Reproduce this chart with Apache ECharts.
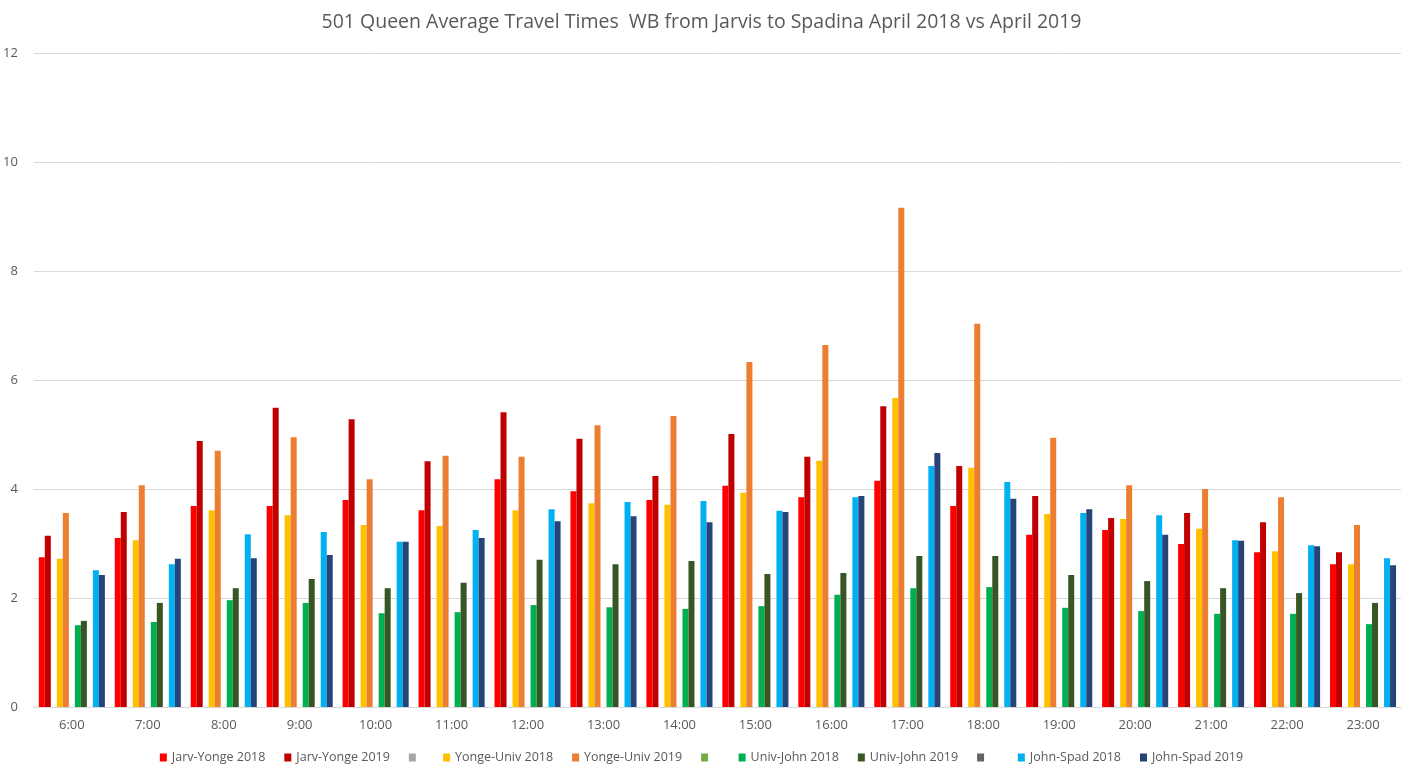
<!DOCTYPE html>
<html>
<head>
<meta charset="utf-8">
<script src="https://cdn.jsdelivr.net/npm/echarts@6/dist/echarts.min.js"></script>
<style>
html,body{margin:0;padding:0;background:#fff;}
#c{width:1403px;height:777px;}
</style>
</head>
<body>
<div id="c"></div>
<script>
const categories = ['6:00','7:00','8:00','9:00','10:00','11:00','12:00','13:00','14:00','15:00','16:00','17:00','18:00','19:00','20:00','21:00','22:00','23:00'];
const jarvYonge2018 = [2.75,3.10,3.69,3.69,3.80,3.61,4.18,3.96,3.80,4.06,3.85,4.15,3.69,3.16,3.25,2.99,2.84,2.62];
const jarvYonge2019 = [3.14,3.58,4.88,5.49,5.28,4.51,5.41,4.92,4.24,5.01,4.59,5.52,4.42,3.87,3.47,3.56,3.39,2.84];
const yongeUniv2018 = [2.72,3.06,3.61,3.52,3.34,3.32,3.61,3.74,3.71,3.93,4.52,5.67,4.39,3.54,3.45,3.27,2.86,2.62];
const yongeUniv2019 = [3.56,4.07,4.70,4.95,4.18,4.61,4.59,5.17,5.34,6.33,6.64,9.16,7.03,4.94,4.07,4.00,3.85,3.34];
const univJohn2018 = [1.50,1.56,1.96,1.91,1.72,1.74,1.87,1.83,1.80,1.85,2.06,2.18,2.20,1.82,1.76,1.71,1.71,1.52];
const univJohn2019 = [1.58,1.91,2.18,2.35,2.18,2.28,2.70,2.62,2.68,2.44,2.46,2.77,2.77,2.42,2.31,2.18,2.09,1.91];
const johnSpad2018 = [2.51,2.62,3.17,3.21,3.03,3.25,3.63,3.76,3.78,3.60,3.85,4.42,4.13,3.56,3.52,3.06,2.97,2.73];
const johnSpad2019 = [2.42,2.72,2.73,2.79,3.03,3.10,3.41,3.50,3.39,3.58,3.87,4.66,3.82,3.63,3.16,3.05,2.95,2.60];
const emptySeries = categories.map(() => null);

const seriesDefs = [
  {name:'Jarv-Yonge 2018', data:jarvYonge2018, color:'#FF0000'},
  {name:'Jarv-Yonge 2019', data:jarvYonge2019, color:'#C00000'},
  {name:' ', data:emptySeries, color:'#A5A5A5'},
  {name:'Yonge-Univ 2018', data:yongeUniv2018, color:'#FFC000'},
  {name:'Yonge-Univ 2019', data:yongeUniv2019, color:'#ED7D31'},
  {name:'  ', data:emptySeries, color:'#70AD47'},
  {name:'Univ-John 2018', data:univJohn2018, color:'#00B050'},
  {name:'Univ-John 2019', data:univJohn2019, color:'#375623'},
  {name:'   ', data:emptySeries, color:'#636363'},
  {name:'John-Spad 2018', data:johnSpad2018, color:'#00B0F0'},
  {name:'John-Spad 2019', data:johnSpad2019, color:'#264478'}
];

const font = '"Open Sans", "Noto Sans", sans-serif';
const chart = echarts.init(document.getElementById('c'));
chart.setOption({
  animation:false,
  backgroundColor:'#fff',
  title:{
    text:'501 Queen Average Travel Times  WB from Jarvis to Spadina April 2018 vs April 2019',
    left:'center', top:7,
    textStyle:{fontFamily:font, fontSize:19.5, fontWeight:'normal', color:'#595959'}
  },
  legend:{
    bottom:8, left:'center',
    itemWidth:7, itemHeight:8, itemGap:19,
    icon:'rect',
    textStyle:{fontFamily:font, fontSize:12.5, color:'#595959'},
    data:seriesDefs.map(s => s.name)
  },
  grid:{left:32, right:2, top:53, bottom:70, containLabel:false},
  xAxis:{
    type:'category', data:categories,
    axisLine:{lineStyle:{color:'#D9D9D9'}},
    axisTick:{show:false},
    axisLabel:{fontFamily:font, fontSize:13, color:'#595959', margin:12}
  },
  yAxis:{
    type:'value', min:0, max:12, interval:2,
    axisLine:{show:false}, axisTick:{show:false},
    splitLine:{lineStyle:{color:'#D9D9D9'}},
    axisLabel:{fontFamily:font, fontSize:13, color:'#595959', margin:16}
  },
  series:seriesDefs.map(s => ({
    name:s.name, type:'bar', data:s.data,
    itemStyle:{color:s.color},
    barGap:'0%', barCategoryGap:'13%'
  }))
});
</script>
</body>
</html>
